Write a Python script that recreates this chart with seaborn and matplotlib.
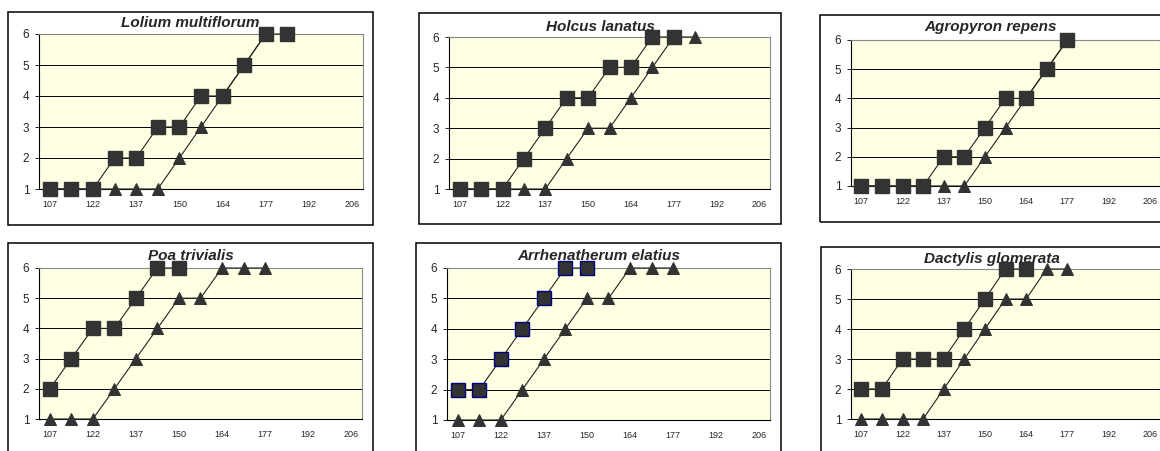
import numpy as np
import matplotlib
matplotlib.use("Agg")
import matplotlib.pyplot as plt
import seaborn as sns
from matplotlib.patches import Rectangle

sns.set_style("white")
plt.rcParams['font.family'] = ['Liberation Sans', 'DejaVu Sans']

# ---- data ----
day_labels = ["107", "", "122", "", "137", "", "150", "", "164", "", "177", "", "192", "", "206"]
y_ticks = [1, 2, 3, 4, 5, 6]

species = ["Lolium multiflorum", "Holcus lanatus", "Agropyron repens",
           "Poa trivialis", "Arrhenatherum elatius", "Dactylis glomerata"]

lolium_sq = [1, 1, 1, 2, 2, 3, 3, 4, 4, 5, 6, 6]
lolium_tri = [1, 1, 1, 1, 1, 1, 2, 3, 4, 5, 6]
holcus_sq = [1, 1, 1, 2, 3, 4, 4, 5, 5, 6, 6]
holcus_tri = [1, 1, 1, 1, 1, 2, 3, 3, 4, 5, 6, 6]
agro_sq = [1, 1, 1, 1, 2, 2, 3, 4, 4, 5, 6]
agro_tri = [1, 1, 1, 1, 1, 1, 2, 3, 4, 5, 6]
poa_sq = [2, 3, 4, 4, 5, 6, 6]
poa_tri = [1, 1, 1, 2, 3, 4, 5, 5, 6, 6, 6]
arrh_sq = [2, 2, 3, 4, 5, 6, 6]
arrh_tri = [1, 1, 1, 2, 3, 4, 5, 5, 6, 6, 6]
dact_sq = [2, 2, 3, 3, 3, 4, 5, 6, 6]
dact_tri = [1, 1, 1, 1, 2, 3, 4, 5, 5, 6, 6]

squares = [lolium_sq, holcus_sq, agro_sq, poa_sq, arrh_sq, dact_sq]
triangles = [lolium_tri, holcus_tri, agro_tri, poa_tri, arrh_tri, dact_tri]

# ---- layout (pixels) ----
W, H = 1160, 451
boxes = [(8, 12, 373, 225), (419, 13, 781, 224), (820, 15, 1164, 222),
         (8, 243, 373, 460), (416, 243, 781, 460), (821, 247, 1164, 460)]
plots = [(39, 34, 363, 189), (449, 37, 770, 189), (851, 40, 1160, 186),
         (39, 268, 362, 419), (447, 268, 770, 420), (851, 269, 1160, 419)]
title_base = [27, 31, 31, 260, 260, 263]

fig = plt.figure(figsize=(W / 100, H / 100), dpi=100)

def frac(x0, y0, x1, y1):
    return [x0 / W, 1 - y1 / H, (x1 - x0) / W, (y1 - y0) / H]

marker_col = "#333333"
line_col = "#222222"

for i in range(6):
    bx = boxes[i]
    fig.patches.append(Rectangle((bx[0] / W, 1 - bx[3] / H), (bx[2] - bx[0]) / W,
                                 (bx[3] - bx[1]) / H, transform=fig.transFigure,
                                 fill=False, edgecolor="black", lw=1.1))
    ax = fig.add_axes(frac(*plots[i]))
    ax.set_facecolor("#FFFFE3")
    ax.set_axisbelow(True)
    ax.yaxis.grid(True, color="black", lw=0.7)
    tri = triangles[i]
    sq = squares[i]
    sns.lineplot(x=np.arange(len(tri)), y=tri, ax=ax, color=line_col, lw=0.8,
                 marker="^", markersize=9, markerfacecolor=marker_col,
                 markeredgecolor=marker_col, clip_on=False, zorder=3)
    edge = "#000080" if i == 4 else marker_col
    sns.lineplot(x=np.arange(len(sq)), y=sq, ax=ax, color=line_col, lw=0.8,
                 marker="s", markersize=9.5, markerfacecolor=marker_col,
                 markeredgecolor=edge, markeredgewidth=1.0, clip_on=False, zorder=4)
    ax.set_xlim(-0.5, len(day_labels) - 0.5)
    ax.set_ylim(1, 6)
    ax.set_yticks(y_ticks)
    ax.set_yticklabels([str(v) for v in y_ticks], fontsize=8.5)
    ax.set_xticks(np.arange(len(day_labels)))
    ax.set_xticklabels(day_labels, fontsize=6.5)
    ax.set_xticks(np.arange(-0.5, len(day_labels), 1), minor=True)
    ax.tick_params(axis="x", which="major", length=0, pad=8)
    ax.tick_params(axis="x", which="minor", length=3, direction="out", width=0.7)
    ax.tick_params(axis="y", length=3, direction="out", width=0.7, pad=4, left=True)
    ax.set_xlabel("")
    ax.set_ylabel("")
    for s in ["top", "right"]:
        ax.spines[s].set_color("#888888")
        ax.spines[s].set_linewidth(0.8)
    for s in ["left", "bottom"]:
        ax.spines[s].set_color("black")
        ax.spines[s].set_linewidth(0.8)
    cx = (bx[0] + min(bx[2], 1162)) / 2 / W
    fig.text(cx, 1 - title_base[i] / H, species[i], fontsize=11, fontweight="bold",
             fontstyle="italic", ha="center", va="baseline")

fig.savefig("out.png", dpi=100)
